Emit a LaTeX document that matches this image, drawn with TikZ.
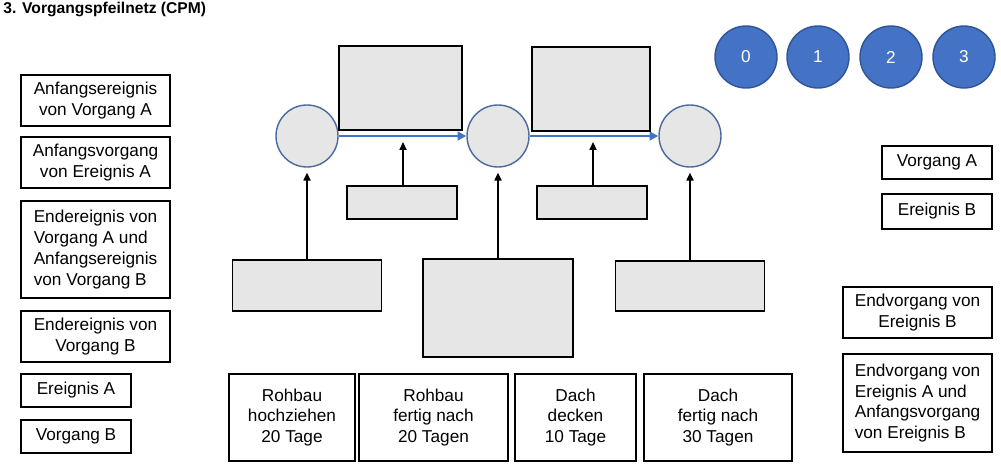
\documentclass[tikz,border=0pt]{standalone}
\usepackage{fontspec}
\setmainfont{Liberation Sans}
\usepackage{tikz}
\usetikzlibrary{arrows.meta}

\definecolor{grauton}{HTML}{E6E6E6}
\definecolor{kreisgrau}{HTML}{E7E6E6}
\definecolor{kreisrand}{HTML}{4A6A9E}
\definecolor{nummerblau}{HTML}{4472C4}
\definecolor{nummerrand}{HTML}{2F5597}

\begin{document}
\begin{tikzpicture}[x=0.02cm,y=-0.02cm,
    kasten/.style={draw,line width=1.1pt,fill=white,align=center,inner sep=0pt,
      font=\fontsize{9.8}{11.9}\selectfont},
    grau/.style={draw,line width=1.1pt,fill=grauton,inner sep=0pt},
    ereignis/.style={circle,draw=kreisrand,line width=0.8pt,fill=kreisgrau,
      minimum size=1.24cm,inner sep=0pt},
    nummer/.style={circle,draw=nummerrand,line width=0.8pt,fill=nummerblau,text=white,
      minimum size=1.24cm,inner sep=0pt,font=\fontsize{9.8}{11.9}\selectfont},
    pfeil/.style={line width=0.9pt,-{Triangle[length=4.5pt,width=4pt]}},
    vorgang/.style={line width=1.3pt,draw=nummerblau,-{Triangle[length=5pt,width=5pt]}}]

    \useasboundingbox (0,0) rectangle (1001,470);

    % Ueberschrift
    \node[anchor=west,inner sep=0pt,font=\bfseries\fontsize{8.9}{11}\selectfont] (titel) at (3,9)
      {3. Vorgangspfeilnetz (CPM)};

    % Nummern
    \foreach \n/\x in {0/746,1/818,2/891,3/964}
      \node[nummer] (n\n) at (\x,57) {\n};

    % Ereignisse
    \node[ereignis] (e1) at (307,136) {};
    \node[ereignis] (e2) at (498,136) {};
    \node[ereignis] (e3) at (690,136) {};

    % Vorgaenge
    \draw[vorgang] (e1) -- (e2);
    \draw[vorgang] (e2) -- (e3);

    % Felder oben
    \node[grau,minimum width=2.46cm,minimum height=1.68cm] (fA) at (400.5,88) {};
    \node[grau,minimum width=2.36cm,minimum height=1.68cm] (fB) at (591,89) {};
    \node[grau,minimum width=2.2cm,minimum height=0.66cm] (sA) at (402,202.5) {};
    \node[grau,minimum width=2.2cm,minimum height=0.66cm] (sB) at (592,202.5) {};
    \coordinate (pA) at (403,142);
    \coordinate (pB) at (593,142);
    \draw[pfeil] (sA.north -| pA) -- (pA);
    \draw[pfeil] (sB.north -| pB) -- (pB);

    % Felder unten
    \node[grau,minimum width=2.98cm,minimum height=1.02cm] (gA) at (307,285.5) {};
    \node[grau,minimum width=3.0cm,minimum height=1.96cm] (gB) at (498,308) {};
    \node[grau,minimum width=2.98cm,minimum height=1.0cm] (gC) at (690,286) {};
    \draw[pfeil,shorten >=2.8pt] (gA) -- (e1);
    \draw[pfeil,shorten >=2.8pt] (gB) -- (e2);
    \draw[pfeil,shorten >=2.8pt] (gC) -- (e3);

    % Beschreibungen
    \node[kasten,minimum width=2.52cm,minimum height=1.74cm] (bA) at (292,417.5)
      {Rohbau\\hochziehen\\20 Tage};
    \node[kasten,minimum width=2.98cm,minimum height=1.74cm] (bB) at (433.5,417.5)
      {Rohbau\\fertig nach\\20 Tagen};
    \node[kasten,minimum width=2.42cm,minimum height=1.74cm] (bC) at (575.5,417.5)
      {Dach\\decken\\10 Tage};
    \node[kasten,minimum width=2.96cm,minimum height=1.74cm] (bD) at (718,417.5)
      {Dach\\fertig nach\\30 Tagen};

    % Begriffe links
    \node[kasten,minimum width=2.98cm,minimum height=1.02cm] (lA) at (95.5,100.5)
      {Anfangsereignis\\von Vorgang A};
    \node[kasten,minimum width=2.98cm,minimum height=1.02cm] (lB) at (95.5,162.5)
      {Anfangsvorgang\\von Ereignis A};
    \node[kasten,align=left,minimum width=2.98cm,minimum height=1.94cm] (lC) at (95.5,249.5)
      {Endereignis von\\Vorgang A und\\Anfangsereignis\\von Vorgang B};
    \node[kasten,minimum width=2.98cm,minimum height=1.02cm] (lD) at (95.5,336.5)
      {Endereignis von\\Vorgang B};
    \node[kasten,minimum width=2.2cm,minimum height=0.66cm] (lE) at (76,390.5)
      {Ereignis A};
    \node[kasten,minimum width=2.2cm,minimum height=0.66cm] (lF) at (76,436.5)
      {Vorgang B};

    % Begriffe rechts
    \node[kasten,minimum width=2.2cm,minimum height=0.66cm] (rA) at (937,162.5)
      {Vorgang A};
    \node[kasten,minimum width=2.2cm,minimum height=0.7cm] (rB) at (937,211.5)
      {Ereignis B};
    \node[kasten,minimum width=2.98cm,minimum height=1.02cm] (rC) at (917.5,312.5)
      {Endvorgang von\\Ereignis B};
    \node[kasten,align=left,minimum width=2.98cm,minimum height=1.96cm] (rD) at (917.5,403)
      {Endvorgang von\\Ereignis A und\\Anfangsvorgang\\von Ereignis B};

\end{tikzpicture}
\end{document}
